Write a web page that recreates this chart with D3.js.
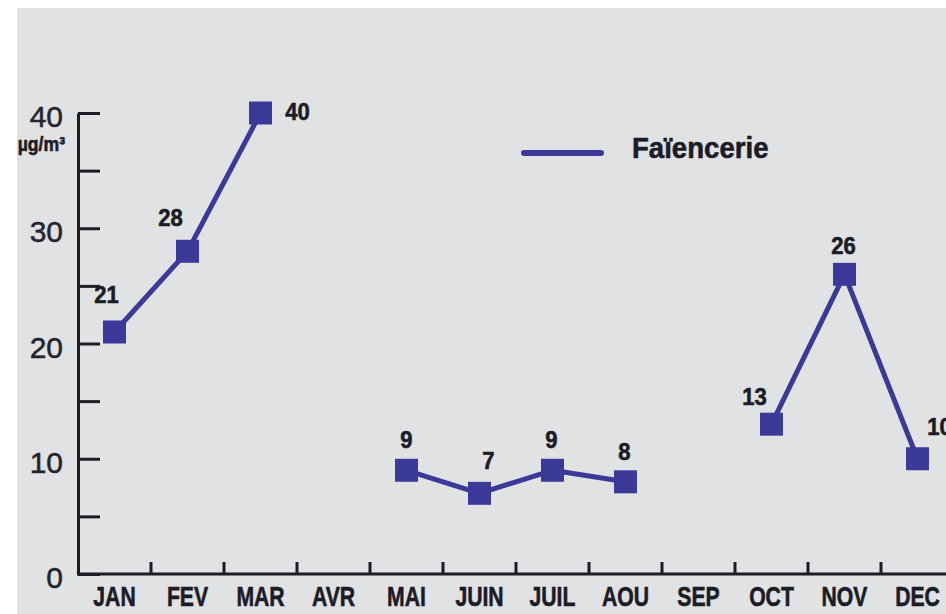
<!DOCTYPE html>
<html>
<head>
<meta charset="utf-8">
<script src="https://cdn.jsdelivr.net/npm/d3@7"></script>
<style>
  html, body { margin: 0; padding: 0; background: #ffffff; }
  svg { display: block; }
  .bold { font-family: "Liberation Sans", Arial, Helvetica, sans-serif; font-weight: bold; }
  .ylab { font-family: "Liberation Sans", Arial, Helvetica, sans-serif; }
</style>
</head>
<body>
<script>
// Monthly concentration, µg/m³ — null where no measurement was taken
const months = ["JAN", "FEV", "MAR", "AVR", "MAI", "JUIN", "JUIL", "AOU", "SEP", "OCT", "NOV", "DEC"];
const faiencerie = [21, 28, 40, null, 9, 7, 9, 8, null, 13, 26, 10];
const yTickLabels = [0, 10, 20, 30, 40];
const yMinorTicks = [0, 5, 10, 15, 20, 25, 30, 35, 40];
const seriesName = "Faïencerie";
const unitLabel = "µg/m³";

const W = 946, H = 614;
const ink = "#1c1c26";
const blue = "#3b3a98";

const svg = d3.select("body").append("svg")
  .attr("width", W).attr("height", H);

// panel background
svg.append("rect").attr("x", 17).attr("y", 8)
  .attr("width", W - 17).attr("height", H - 8)
  .attr("fill", "#e1e2e4");

const x = d3.scaleBand().domain(months).range([78, 78 + 73 * 12]);
const y = d3.scaleLinear().domain([0, 40]).range([574, 113]);

const data = months.map((m, i) => ({ m, v: faiencerie[i] }));
const cx = d => x(d.m) + x.bandwidth() / 2;

// condensed heavy text: horizontally squeezed Liberation Sans Bold
function squeezed(sel, px, py, sx) {
  return sel.attr("class", "bold")
    .attr("stroke", ink).attr("stroke-width", 0.6)
    .attr("transform", (d, i) => `translate(${typeof px === "function" ? px(d, i) : px},${typeof py === "function" ? py(d, i) : py}) scale(${sx},1)`);
}

// y axis: ticks pointing into the plot
const yAxis = d3.axisRight(y).tickValues(yMinorTicks).tickSize(22).tickSizeOuter(0).tickFormat("");
const gy = svg.append("g").attr("transform", "translate(78,0)").call(yAxis);
gy.selectAll("path, line").attr("stroke", ink).attr("stroke-width", 3);

svg.append("g").selectAll("text").data(yTickLabels).join("text")
  .attr("class", "ylab")
  .attr("x", 63).attr("y", d => y(d) + 14)
  .attr("text-anchor", "end")
  .attr("font-size", 30).attr("fill", "#25242e")
  .attr("stroke", "#25242e").attr("stroke-width", 0.5)
  .text(d => d);

squeezed(svg.append("text"), 65, 151, 0.88)
  .attr("text-anchor", "end").attr("font-size", 20).attr("fill", ink).text(unitLabel);

// x axis: baseline with upward ticks at month boundaries
svg.append("line").attr("x1", 77).attr("x2", W).attr("y1", y(0)).attr("y2", y(0))
  .attr("stroke", ink).attr("stroke-width", 3);
svg.append("g").selectAll("line").data(months).join("line")
  .attr("x1", d => x(d) + x.bandwidth()).attr("x2", d => x(d) + x.bandwidth())
  .attr("y1", y(0)).attr("y2", y(0) - 12)
  .attr("stroke", ink).attr("stroke-width", 3);

squeezed(svg.append("g").selectAll("text").data(months).join("text"),
    d => x(d) + x.bandwidth() / 2, 606, 0.77)
  .attr("text-anchor", "middle").attr("font-size", 27.5).attr("fill", ink)
  .text(d => d);

// series line, broken at missing months
const line = d3.line().defined(d => d.v != null).x(cx).y(d => y(d.v));
svg.append("path").datum(data).attr("d", line)
  .attr("fill", "none").attr("stroke", blue).attr("stroke-width", 5)
  .attr("stroke-linejoin", "round");

const pts = data.filter(d => d.v != null);
const S = 23;
svg.append("g").selectAll("rect").data(pts).join("rect")
  .attr("x", d => cx(d) - S / 2).attr("y", d => y(d.v) - S / 2)
  .attr("width", S).attr("height", S).attr("fill", blue);

// value labels: offset of the baseline from the marker centre
const labelOffset = {
  JAN: [-8, -29], FEV: [-17, -25], MAR: [37, 7], MAI: [0, -22], JUIN: [9, -24],
  JUIL: [-1, -22], AOU: [-1, -22], OCT: [-17, -19], NOV: [-1, -20], DEC: [22, -24]
};
squeezed(svg.append("g").selectAll("text").data(pts).join("text"),
    d => cx(d) + labelOffset[d.m][0], d => y(d.v) + labelOffset[d.m][1], 0.92)
  .attr("text-anchor", "middle").attr("font-size", 24).attr("fill", ink)
  .text(d => d.v);

// legend
svg.append("line").attr("x1", 524).attr("x2", 601).attr("y1", 153).attr("y2", 153)
  .attr("stroke", blue).attr("stroke-width", 6).attr("stroke-linecap", "round");
squeezed(svg.append("text"), 632, 158, 0.92)
  .attr("font-size", 30).attr("fill", ink)
  .text(seriesName);
</script>
</body>
</html>
